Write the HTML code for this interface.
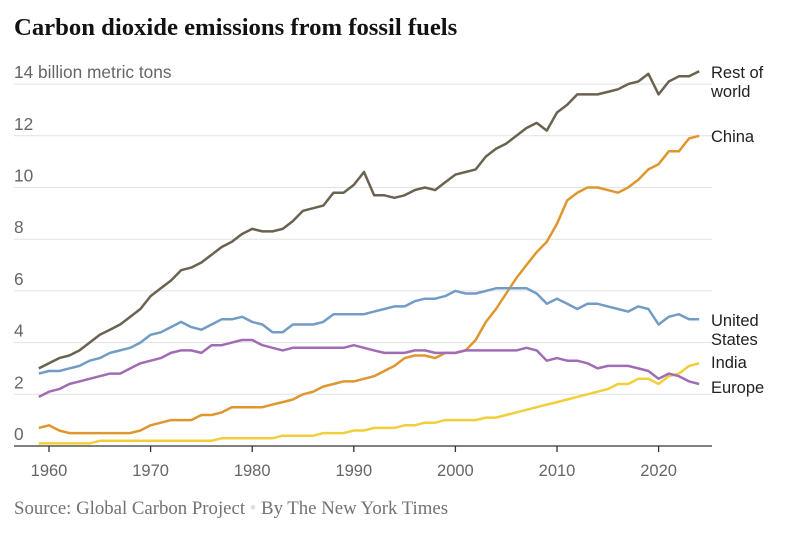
<!DOCTYPE html>
<html><head><meta charset="utf-8"><style>
body{margin:0;background:#fff;width:788px;height:533px;overflow:hidden}
svg text{font-family:"Liberation Sans",sans-serif}
</style></head><body>
<svg id="c" width="788" height="533">
<text x="14" y="35" font-weight="bold" font-size="24.7" fill="#121212" style="font-family:'Liberation Serif',serif">Carbon dioxide emissions from fossil fuels</text>
<g id="grid"></g><g id="lines"></g><g id="xax"></g>
<text x="14" y="514" font-size="18.8" fill="#727272" style="font-family:'Liberation Serif',serif">Source: Global Carbon Project <tspan fill="#ddd">•</tspan> By The New York Times</text>
</svg>
<script>
const years=[];for(let y=1959;y<=2024;y++)years.push(y);
const yTicks=[0,2,4,6,8,10,12,14];
const xTicks=[1960,1970,1980,1990,2000,2010,2020];
const rest=[3.0,3.2,3.4,3.5,3.7,4.0,4.3,4.5,4.7,5.0,5.3,5.8,6.1,6.4,6.8,6.9,7.1,7.4,7.7,7.9,8.2,8.4,8.3,8.3,8.4,8.7,9.1,9.2,9.3,9.8,9.8,10.1,10.6,9.7,9.7,9.6,9.7,9.9,10.0,9.9,10.2,10.5,10.6,10.7,11.2,11.5,11.7,12.0,12.3,12.5,12.2,12.9,13.2,13.6,13.6,13.6,13.7,13.8,14.0,14.1,14.4,13.6,14.1,14.3,14.3,14.5];
const china=[0.7,0.8,0.6,0.5,0.5,0.5,0.5,0.5,0.5,0.5,0.6,0.8,0.9,1.0,1.0,1.0,1.2,1.2,1.3,1.5,1.5,1.5,1.5,1.6,1.7,1.8,2.0,2.1,2.3,2.4,2.5,2.5,2.6,2.7,2.9,3.1,3.4,3.5,3.5,3.4,3.6,3.6,3.7,4.1,4.8,5.3,5.9,6.5,7.0,7.5,7.9,8.6,9.5,9.8,10.0,10.0,9.9,9.8,10.0,10.3,10.7,10.9,11.4,11.4,11.9,12.0];
const us=[2.8,2.9,2.9,3.0,3.1,3.3,3.4,3.6,3.7,3.8,4.0,4.3,4.4,4.6,4.8,4.6,4.5,4.7,4.9,4.9,5.0,4.8,4.7,4.4,4.4,4.7,4.7,4.7,4.8,5.1,5.1,5.1,5.1,5.2,5.3,5.4,5.4,5.6,5.7,5.7,5.8,6.0,5.9,5.9,6.0,6.1,6.1,6.1,6.1,5.9,5.5,5.7,5.5,5.3,5.5,5.5,5.4,5.3,5.2,5.4,5.3,4.7,5.0,5.1,4.9,4.9];
const europe=[1.9,2.1,2.2,2.4,2.5,2.6,2.7,2.8,2.8,3.0,3.2,3.3,3.4,3.6,3.7,3.7,3.6,3.9,3.9,4.0,4.1,4.1,3.9,3.8,3.7,3.8,3.8,3.8,3.8,3.8,3.8,3.9,3.8,3.7,3.6,3.6,3.6,3.7,3.7,3.6,3.6,3.6,3.7,3.7,3.7,3.7,3.7,3.7,3.8,3.7,3.3,3.4,3.3,3.3,3.2,3.0,3.1,3.1,3.1,3.0,2.9,2.6,2.8,2.7,2.5,2.4];
const india=[0.1,0.1,0.1,0.1,0.1,0.1,0.2,0.2,0.2,0.2,0.2,0.2,0.2,0.2,0.2,0.2,0.2,0.2,0.3,0.3,0.3,0.3,0.3,0.3,0.4,0.4,0.4,0.4,0.5,0.5,0.5,0.6,0.6,0.7,0.7,0.7,0.8,0.8,0.9,0.9,1.0,1.0,1.0,1.0,1.1,1.1,1.2,1.3,1.4,1.5,1.6,1.7,1.8,1.9,2.0,2.1,2.2,2.4,2.4,2.6,2.6,2.4,2.7,2.8,3.1,3.2];
const NS="http://www.w3.org/2000/svg";
const x=yr=>49+(yr-1960)*10.16;
const y=v=>446-v*25.85;
function mk(tag,attrs,parent){const e=document.createElementNS(NS,tag);for(const k in attrs)e.setAttribute(k,attrs[k]);parent.appendChild(e);return e;}
const grid=document.getElementById('grid');
yTicks.forEach(t=>{
  if(t>0){const l=mk('line',{x1:14,x2:712,y1:y(t),y2:y(t),stroke:'#e2e2e2','stroke-width':1},grid);
  
  }
  const tx=mk('text',{x:14,y:y(t)-6,'font-size':17.3,fill:'#666'},grid);
  tx.textContent=t===14?'14 billion metric tons':String(t);
  
  
});
const xa=document.getElementById('xax');
const ax=mk('line',{x1:14,x2:712,y1:446,y2:446,stroke:'#333','stroke-width':1.3},xa);


xTicks.forEach(t=>{
  const tk=mk('line',{x1:x(t),x2:x(t),y1:446,y2:452,stroke:'#333','stroke-width':1.3},xa);
  
  
  const tx=mk('text',{x:x(t),y:476,'font-size':16.5,fill:'#666','text-anchor':'middle'},xa);
  tx.textContent=t;
  
  
});
const series=[[india,'#f2cf3a','india',['India'],[368]],[china,'#e0962e','china',['China'],[142]],[europe,'#a06cb4','europe',['Europe'],[393]],[us,'#739cc4','united-states',['United','States'],[326,345]],[rest,'#6a6350','rest-of-world',['Rest of','world'],[78,97]]];
const lg=document.getElementById('lines');
series.forEach(([d,c,n,lab,ly])=>{
  const p=mk('path',{d:d.map((v,i)=>(i?'L':'M')+x(years[i]).toFixed(1)+','+y(v).toFixed(1)).join(''),fill:'none',stroke:c,'stroke-width':2.5,'stroke-linejoin':'round'},lg);
  
  
  lab.forEach((s,i)=>{const t=mk('text',{x:711,y:ly[i],'font-size':16.5,fill:'#222'},lg);t.textContent=s;
  
  });
});
</script>
</body></html>
